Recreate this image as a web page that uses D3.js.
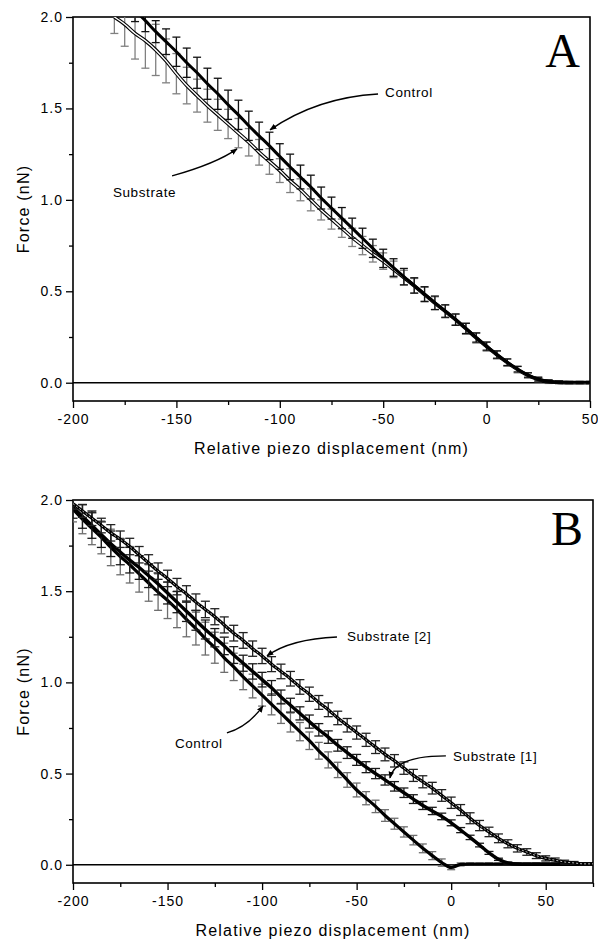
<!DOCTYPE html>
<html>
<head>
<meta charset="utf-8">
<script src="https://cdn.jsdelivr.net/npm/d3@7"></script>
<style>
  body { margin: 0; background: #fff; }
  svg { display: block; }
  text { font-family: "Liberation Sans", Arial, sans-serif; fill: #000; }
</style>
</head>
<body>
<svg id="chart" width="598" height="942"></svg>
<script>
// ---- panel A data (nm, nN) ----
const xA = [-180, -175, -170, -165, -160, -155, -150, -145, -140, -135, -130, -125, -120, -115, -110, -105, -100, -95, -90, -85,
  -80, -75, -70, -65, -60, -55, -50, -45, -40, -35, -30, -25, -20, -15, -10, -5, 0, 5, 10, 15, 20, 25, 30, 35, 40, 45, 50];
const substrateA = [2.00, 1.96, 1.91, 1.87, 1.82, 1.76, 1.69, 1.625, 1.57, 1.515, 1.465, 1.415, 1.365, 1.315, 1.26, 1.21, 1.16, 1.105, 1.055, 1.00,
  0.945, 0.895, 0.845, 0.795, 0.75, 0.705, 0.665, 0.62, 0.575, 0.53, 0.482, 0.435, 0.39, 0.345, 0.295, 0.245, 0.198, 0.152, 0.11, 0.072,
  0.04, 0.018, 0.006, 0.002, 0.0, 0.0, 0.0];
const substrateErrA = [0.09, 0.12, 0.14, 0.15, 0.14, 0.12, 0.11, 0.10, 0.09, 0.09, 0.085, 0.08, 0.08, 0.075, 0.07, 0.07, 0.065, 0.065, 0.06, 0.06,
  0.055, 0.055, 0.05, 0.05, 0.05, 0.045, 0.045, 0.045, 0.04, 0.04, 0.04, 0.035, 0.035, 0.03, 0.03, 0.028, 0.025, 0.022, 0.02, 0.018,
  0.015, 0.012, 0.01, 0.008, 0.006, 0.006, 0.006];
const controlA = [null, null, 2.035, 1.98, 1.92, 1.865, 1.81, 1.75, 1.695, 1.635, 1.58, 1.52, 1.465, 1.405, 1.35, 1.295, 1.237, 1.18, 1.125, 1.07,
  1.01, 0.955, 0.90, 0.845, 0.79, 0.735, 0.68, 0.63, 0.58, 0.532, 0.485, 0.437, 0.392, 0.345, 0.297, 0.247, 0.2, 0.154, 0.112, 0.074,
  0.042, 0.02, 0.007, 0.003, 0.002, 0.002, 0.002];
const controlErrA = [null, null, 0.06, 0.06, 0.06, 0.07, 0.08, 0.08, 0.085, 0.085, 0.085, 0.08, 0.08, 0.08, 0.075, 0.075, 0.07, 0.07, 0.065, 0.065,
  0.06, 0.06, 0.058, 0.055, 0.055, 0.05, 0.05, 0.048, 0.045, 0.042, 0.04, 0.037, 0.034, 0.031, 0.028, 0.025, 0.022, 0.02, 0.018, 0.015,
  0.012, 0.01, 0.008, 0.006, 0.005, 0.005, 0.005];

// ---- panel B data ----
const xB = [-200, -195, -190, -185, -180, -175, -170, -165, -160, -155, -150, -145, -140, -135, -130, -125, -120, -115, -110, -105,
  -100, -95, -90, -85, -80, -75, -70, -65, -60, -55, -50, -45, -40, -35, -30, -25, -20, -15, -10, -5,
  0, 5, 10, 15, 20, 25, 30, 35, 40, 45, 50, 55, 60, 65, 70, 75];
const controlB = [1.95, 1.895, 1.845, 1.795, 1.74, 1.69, 1.645, 1.595, 1.545, 1.495, 1.45, 1.40, 1.345, 1.295, 1.24, 1.19, 1.135, 1.085, 1.03, 0.98,
  0.93, 0.88, 0.83, 0.78, 0.73, 0.68, 0.625, 0.575, 0.52, 0.465, 0.41, 0.365, 0.32, 0.27, 0.225, 0.18, 0.135, 0.09, 0.05, 0.012,
  -0.015, 0.002, 0.004, 0.003, 0.004, 0.003, 0.004, 0.003, 0.003, 0.004, 0.003, 0.003, 0.003, 0.003, 0.003, 0.003];
const controlErrB = [0.07, 0.08, 0.09, 0.09, 0.1, 0.1, 0.1, 0.1, 0.1, 0.1, 0.1, 0.1, 0.095, 0.09, 0.09, 0.085, 0.08, 0.075, 0.07, 0.065,
  0.06, 0.058, 0.055, 0.052, 0.05, 0.048, 0.046, 0.044, 0.042, 0.04, 0.038, 0.036, 0.034, 0.032, 0.03, 0.028, 0.026, 0.024, 0.022, 0.02,
  0.012, 0.008, 0.006, 0.006, 0.006, 0.006, 0.006, 0.006, 0.006, 0.006, 0.006, 0.006, 0.006, 0.006, 0.006, 0.006];
const substrate1B = [1.96, 1.91, 1.86, 1.81, 1.76, 1.715, 1.67, 1.63, 1.585, 1.54, 1.49, 1.44, 1.39, 1.34, 1.29, 1.245, 1.20, 1.15, 1.105, 1.06,
  1.015, 0.97, 0.92, 0.875, 0.83, 0.785, 0.74, 0.70, 0.655, 0.615, 0.575, 0.535, 0.50, 0.465, 0.43, 0.395, 0.36, 0.325, 0.295, 0.265,
  0.23, 0.19, 0.15, 0.108, 0.065, 0.03, 0.01, 0.004, 0.003, 0.003, 0.003, 0.003, 0.003, 0.003, 0.003, 0.003];
const substrate1ErrB = [0.06, 0.065, 0.07, 0.07, 0.07, 0.07, 0.07, 0.065, 0.065, 0.06, 0.06, 0.058, 0.056, 0.054, 0.052, 0.05, 0.048, 0.046, 0.044, 0.042,
  0.04, 0.04, 0.038, 0.038, 0.036, 0.036, 0.034, 0.034, 0.032, 0.032, 0.03, 0.03, 0.028, 0.028, 0.026, 0.026, 0.024, 0.022, 0.02, 0.018,
  0.016, 0.014, 0.012, 0.01, 0.008, 0.006, 0.005, 0.004, 0.004, 0.004, 0.004, 0.004, 0.004, 0.004, 0.004, 0.004];
const substrate2B = [1.98, 1.94, 1.90, 1.86, 1.82, 1.785, 1.745, 1.70, 1.655, 1.61, 1.57, 1.525, 1.485, 1.44, 1.40, 1.36, 1.315, 1.27, 1.23, 1.185,
  1.145, 1.10, 1.06, 1.02, 0.975, 0.935, 0.89, 0.85, 0.805, 0.765, 0.725, 0.685, 0.645, 0.605, 0.57, 0.53, 0.49, 0.455, 0.42, 0.38,
  0.34, 0.30, 0.255, 0.215, 0.18, 0.145, 0.115, 0.09, 0.07, 0.05, 0.035, 0.025, 0.015, 0.01, 0.005, 0.005];
const substrate2ErrB = [0.03, 0.035, 0.04, 0.04, 0.045, 0.045, 0.045, 0.045, 0.045, 0.045, 0.045, 0.045, 0.045, 0.045, 0.045, 0.044, 0.044, 0.043, 0.043, 0.042,
  0.042, 0.041, 0.04, 0.04, 0.04, 0.039, 0.038, 0.038, 0.037, 0.037, 0.036, 0.036, 0.035, 0.035, 0.034, 0.034, 0.033, 0.033, 0.032, 0.032,
  0.031, 0.03, 0.03, 0.028, 0.026, 0.024, 0.022, 0.02, 0.018, 0.016, 0.014, 0.012, 0.01, 0.008, 0.006, 0.006];

// ---- axis ticks ----
const yTicks = [0.0, 0.5, 1.0, 1.5, 2.0];
const yMinor = [0.25, 0.75, 1.25, 1.75];
const xTicksA = [-200, -150, -100, -50, 0, 50];
const xMinorA = [-175, -125, -75, -25, 25];
const xTicksB = [-200, -150, -100, -50, 0, 50];
const xMinorB = [-175, -125, -75, -25, 25, 75];

const svg = d3.select("#chart");

// arrow head for the annotations
svg.append("defs").append("marker")
  .attr("id", "head")
  .attr("viewBox", "0 0 10 10")
  .attr("refX", 9).attr("refY", 5)
  .attr("markerWidth", 7).attr("markerHeight", 7)
  .attr("markerUnits", "userSpaceOnUse")
  .attr("orient", "auto")
  .append("path").attr("d", "M0,1 L10,5 L0,9 Z").attr("fill", "#000");

function drawPanel(p) {
  const g = svg.append("g");
  const x = d3.scaleLinear().domain(p.xDomain).range([p.left, p.right]);
  const y = d3.scaleLinear().domain([-0.1, 2.0]).range([p.bottom, p.top]);

  const clipId = "clip" + p.name;
  svg.select("defs").append("clipPath").attr("id", clipId)
    .append("rect")
    .attr("x", p.left).attr("y", p.top)
    .attr("width", p.right - p.left).attr("height", p.bottom - p.top);

  // axes, ticks outward
  const xAxis = g.append("g").attr("transform", `translate(0,${p.bottom})`)
    .call(d3.axisBottom(x).tickValues(p.xTicks).tickSize(7).tickPadding(6).tickSizeOuter(0).tickFormat((d) => String(d)));
  g.append("g").attr("transform", `translate(0,${p.bottom})`)
    .call(d3.axisBottom(x).tickValues(p.xMinor).tickSize(4).tickSizeOuter(0).tickFormat(""));
  const yAxis = g.append("g").attr("transform", `translate(${p.left},0)`)
    .call(d3.axisLeft(y).tickValues(yTicks).tickSize(7).tickPadding(3).tickSizeOuter(0).tickFormat(d3.format(".1f")));
  g.append("g").attr("transform", `translate(${p.left},0)`)
    .call(d3.axisLeft(y).tickValues(yMinor).tickSize(4).tickSizeOuter(0).tickFormat(""));
  g.selectAll(".domain").remove();
  g.selectAll(".tick line").attr("stroke", "#000").attr("stroke-width", 1.3);
  xAxis.selectAll("text").style("font-size", "14px").style("letter-spacing", "1px");
  yAxis.selectAll("text").style("font-size", "14px").style("letter-spacing", "1px");

  // frame + zero line
  g.append("rect")
    .attr("x", p.left).attr("y", p.top)
    .attr("width", p.right - p.left).attr("height", p.bottom - p.top)
    .attr("fill", "none").attr("stroke", "#000").attr("stroke-width", 1.6);
  g.append("line")
    .attr("x1", p.left).attr("x2", p.right)
    .attr("y1", y(0)).attr("y2", y(0))
    .attr("stroke", "#000").attr("stroke-width", 1.4);

  const plot = g.append("g").attr("clip-path", `url(#${clipId})`);

  p.series.forEach((s) => {
    const pts = p.xs.map((v, i) => ({ v: v, f: s.values[i], e: s.errors[i] }))
      .filter((d) => d.f != null);

    // error bars
    const bars = plot.append("g").attr("stroke", s.barColor).attr("stroke-width", 1.3);
    pts.forEach((d) => {
      const y1 = y(d.f - d.e), y2 = y(d.f + d.e), cx = x(d.v);
      bars.append("line").attr("x1", cx).attr("x2", cx).attr("y1", y1).attr("y2", y2);
      bars.append("line").attr("x1", cx - s.cap).attr("x2", cx + s.cap).attr("y1", y1).attr("y2", y1);
      bars.append("line").attr("x1", cx - s.cap).attr("x2", cx + s.cap).attr("y1", y2).attr("y2", y2);
    });

    const line = d3.line()
      .x((d) => x(d.v))
      .y((d) => y(d.f))
      .curve(d3.curveMonotoneX);

    plot.append("path").attr("d", line(pts))
      .attr("fill", "none").attr("stroke", "#000")
      .attr("stroke-width", s.width);
    // hollow markers look like a tube
    if (s.hollow) {
      plot.append("path").attr("d", line(pts))
        .attr("fill", "none").attr("stroke", s.inner || "#fff")
        .attr("stroke-width", s.hollow)
        .attr("stroke-dasharray", s.dash || null);
    }
  });

  // annotations
  p.notes.forEach((n) => {
    g.append("path")
      .attr("d", `M${x(n.from[0])},${y(n.from[1])} Q${x(n.ctrl[0])},${y(n.ctrl[1])} ${x(n.to[0])},${y(n.to[1])}`)
      .attr("fill", "none").attr("stroke", "#000").attr("stroke-width", 1.4)
      .attr("marker-end", "url(#head)");
    g.append("text")
      .attr("x", x(n.at[0])).attr("y", y(n.at[1]))
      .style("font-size", "13.5px").style("letter-spacing", "0.6px")
      .text(n.label);
  });

  // panel letter
  g.append("text")
    .attr("x", p.right - 10).attr("y", p.top + p.letterDy)
    .attr("text-anchor", "end")
    .style("font-family", "'Liberation Serif', 'Times New Roman', serif")
    .style("font-size", "48px")
    .text(p.name);

  // axis titles
  g.append("text")
    .attr("x", (p.left + p.right) / 2).attr("y", p.bottom + 53)
    .attr("text-anchor", "middle")
    .style("font-size", "16px").style("letter-spacing", "1.2px")
    .text("Relative piezo displacement (nm)");
  g.append("text")
    .attr("transform", `translate(29,${(p.top + p.bottom) / 2}) rotate(-90)`)
    .attr("text-anchor", "middle")
    .style("font-size", "16px").style("letter-spacing", "1.2px")
    .text("Force (nN)");
}

drawPanel({
  name: "A",
  left: 73, right: 590, top: 17, bottom: 401,
  xDomain: [-200, 50],
  xTicks: xTicksA, xMinor: xMinorA,
  xs: xA,
  letterDy: 50,
  series: [
    { values: substrateA, errors: substrateErrA, barColor: "#808080", cap: 4, width: 3.6, hollow: 1.4 },
    { values: controlA, errors: controlErrA, barColor: "#111", cap: 4, width: 3.0 },
  ],
  notes: [
    { label: "Control", at: [-49.1, 1.563], from: [-52.5, 1.579], ctrl: [-82, 1.56], to: [-104.7, 1.383] },
    { label: "Substrate", at: [-180.7, 1.016], from: [-152.1, 1.131], ctrl: [-130.5, 1.2], to: [-120.7, 1.279] },
  ],
});

drawPanel({
  name: "B",
  left: 73, right: 593, top: 500, bottom: 883,
  xDomain: [-200, 75],
  xTicks: xTicksB, xMinor: xMinorB,
  xs: xB,
  letterDy: 45,
  series: [
    { values: controlB, errors: controlErrB, barColor: "#6e6e6e", cap: 4, width: 3.2 },
    { values: substrate1B, errors: substrate1ErrB, barColor: "#1a1a1a", cap: 4.5, width: 3.4 },
    { values: substrate2B, errors: substrate2ErrB, barColor: "#222", cap: 4.5, width: 3.2, hollow: 1.0, inner: "#bbb", dash: "2,2" },
  ],
  notes: [
    { label: "Substrate [2]", at: [-55.1, 1.227], from: [-60.4, 1.249], ctrl: [-85.2, 1.238], to: [-97.4, 1.145] },
    { label: "Substrate [1]", at: [0.95, 0.57], from: [-2.8, 0.597], ctrl: [-29.7, 0.597], to: [-32.4, 0.476] },
    { label: "Control", at: [-146.1, 0.641], from: [-118.6, 0.723], ctrl: [-107.5, 0.756], to: [-99.5, 0.871] },
  ],
});
</script>
</body>
</html>
